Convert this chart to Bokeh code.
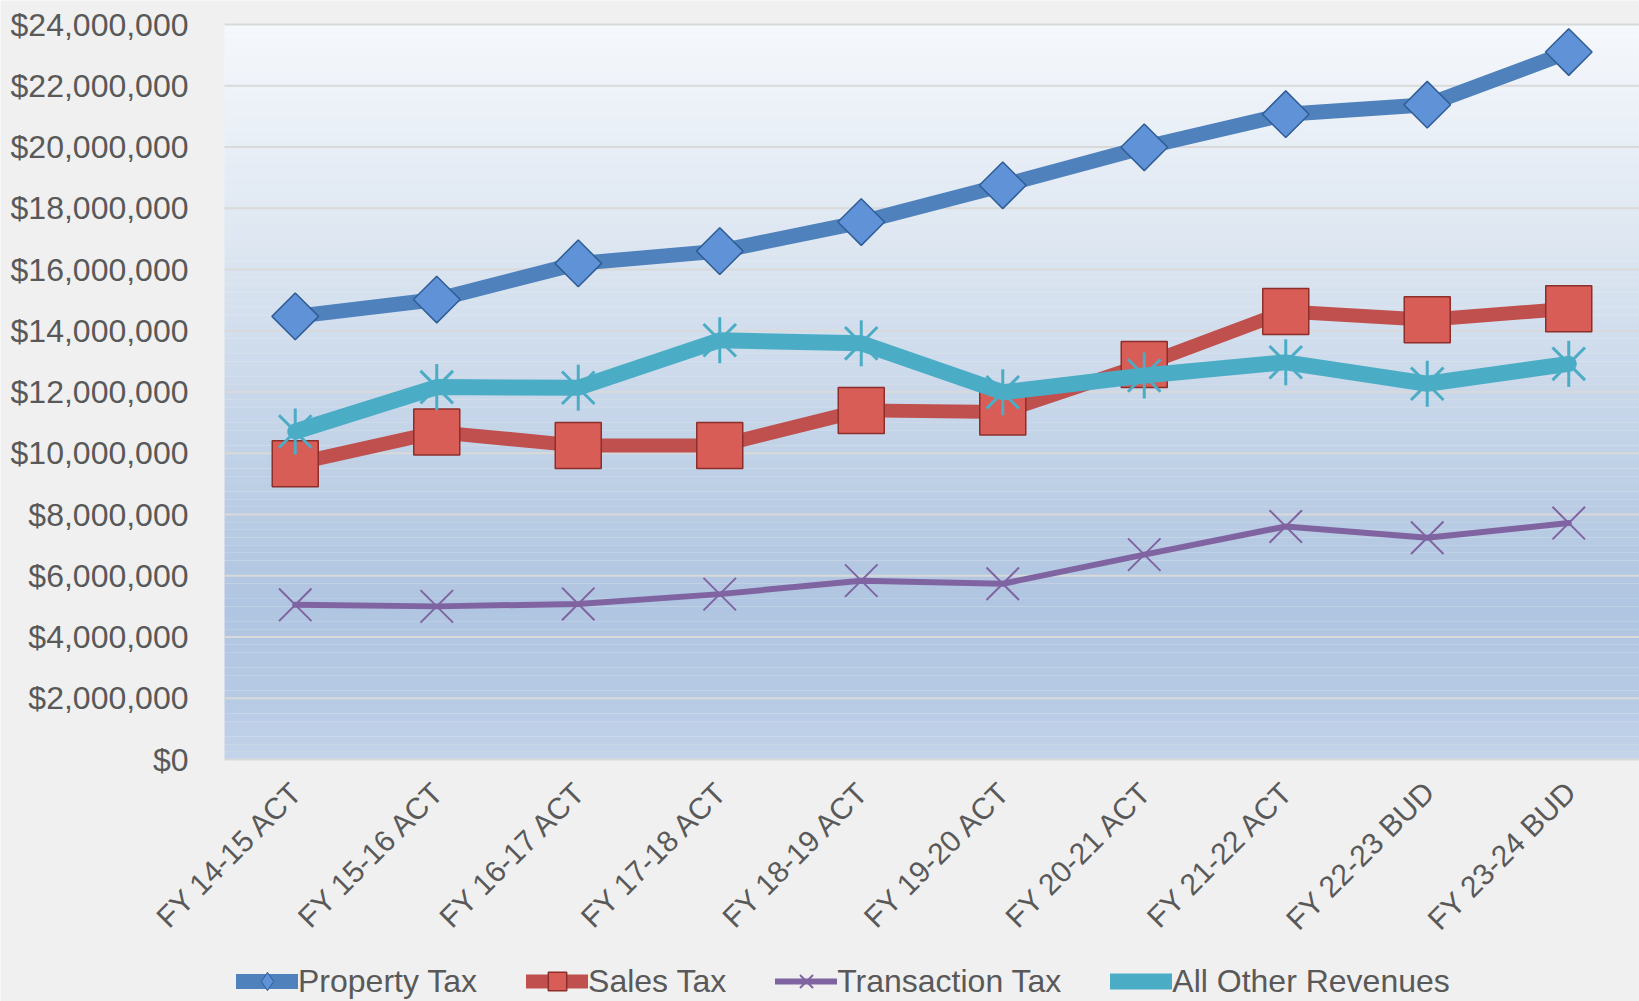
import numpy as np
from bokeh.plotting import figure
from bokeh.models import Range1d, Legend, LegendItem, BoxAnnotation
from bokeh.embed import file_html
from bokeh.resources import INLINE

# ---------------- data ----------------
categories = ["FY 14-15 ACT", "FY 15-16 ACT", "FY 16-17 ACT", "FY 17-18 ACT",
              "FY 18-19 ACT", "FY 19-20 ACT", "FY 20-21 ACT", "FY 21-22 ACT",
              "FY 22-23 BUD", "FY 23-24 BUD"]
property_tax = [14470000, 15020000, 16200000, 16600000, 17550000,
                18750000, 19990000, 21070000, 21380000, 23100000]
sales_tax = [9660000, 10690000, 10250000, 10250000, 11400000,
             11350000, 12900000, 14630000, 14360000, 14720000]
transaction_tax = [5050000, 5000000, 5080000, 5400000, 5840000,
                   5740000, 6690000, 7610000, 7240000, 7720000]
all_other = [10710000, 12160000, 12140000, 13690000, 13590000,
             11990000, 12540000, 12970000, 12270000, 12920000]
y_ticks = list(range(0, 24000001, 2000000))
y_tick_labels = ["${:,}".format(v) for v in y_ticks]

FONT = "Liberation Sans"
TXT = "#595959"
BG = "#f0f0f0"

# layout numbers (pixels): canvas, plot-area offsets
W, H, TOP, LEFT, VAL_H = 1639, 1001, 24, 224, 735
n = len(categories)
x_idx = list(range(n))
y_lo, y_hi = y_ticks[0], y_ticks[-1]
upp = (y_hi - y_lo) / VAL_H                # value units per pixel
band = (W - LEFT) / n                      # pixels per category
x_range = Range1d(-0.5 - LEFT / band, n - 0.5)
y_range = Range1d(y_lo - (H - TOP - VAL_H) * upp, y_hi + TOP * upp)

p = figure(x_range=x_range, y_range=y_range, width=W, height=H,
           output_backend="svg", toolbar_location=None,
           min_border_left=0, min_border_right=0, min_border_top=0, min_border_bottom=0)
p.border_fill_color = BG
p.background_fill_color = BG
p.outline_line_color = None
p.xaxis.visible = False
p.yaxis.visible = False
p.xgrid.grid_line_color = None
p.ygrid.grid_line_color = None

# plot-area vertical gradient (style only)
stops_v = [0, 2, 5, 8, 12, 16, 20, 24]
stops_c = ["#c4d4e9", "#b7cae4", "#b0c5e1", "#b9cce4", "#c9d8ea", "#dae4f0", "#e8eef6", "#f5f8fc"]
def hx(c):
    return np.array([int(c[i:i + 2], 16) for i in (1, 3, 5)], dtype=float)
cols = np.array([hx(c) for c in stops_c])
edges = np.linspace(0, 24, 97)
for b0, b1 in zip(edges[:-1], edges[1:]):
    m = (b0 + b1) / 2
    rgb = [np.interp(m, stops_v, cols[:, k]) for k in range(3)]
    col = "#%02x%02x%02x" % tuple(int(round(v)) for v in rgb)
    p.add_layout(BoxAnnotation(left=-0.5, right=n - 0.5, bottom=b0 * 1e6, top=b1 * 1e6,
                               fill_color=col, fill_alpha=1, line_alpha=0, level="image"))

# horizontal grid lines at the value ticks
p.segment(x0=-0.5, x1=n - 0.5, y0=y_ticks, y1=y_ticks, line_color="#d9d9d9", line_width=2)

# value-axis labels
p.text(x=[-0.5] * len(y_ticks), y=y_ticks, text=y_tick_labels,
       text_align="right", text_baseline="middle", x_offset=-36,
       text_font={"value": FONT}, text_font_size="32px", text_color=TXT)

# category labels (rotated 45 degrees, ending under each category)
p.text(x=x_idx, y=[y_lo] * n, text=categories, angle=np.pi / 4,
       text_align="right", text_baseline="middle", x_offset=2, y_offset=27,
       text_font={"value": FONT}, text_font_size="30px", text_color=TXT)

# series
c_prop, c_sales, c_trans, c_other = "#4f81bd", "#c0504d", "#8064a2", "#4bacc6"

l1 = p.line(x_idx, property_tax, line_width=15, line_color=c_prop,
            line_join="round", line_cap="round")
m1d = p.scatter(x_idx, property_tax, marker="diamond", size=20,
                fill_color="#5f92d6", line_color="#2f5d96", line_width=1)
m1 = p.scatter(x_idx, property_tax, marker="square", angle=np.pi / 4, size=33,
               fill_color="#5f92d6", line_color="#2f5d96", line_width=1.5)

l2 = p.line(x_idx, sales_tax, line_width=14, line_color=c_sales,
            line_join="round", line_cap="round")
m2 = p.scatter(x_idx, sales_tax, marker="square", size=46,
               fill_color="#d85d56", line_color="#8c2f2b", line_width=1.5)

l3 = p.line(x_idx, transaction_tax, line_width=6, line_color=c_trans,
            line_join="round", line_cap="round")
m3 = p.scatter(x_idx, transaction_tax, marker="x", size=46,
               line_color=c_trans, line_width=2)

l4 = p.line(x_idx, all_other, line_width=16, line_color=c_other,
            line_join="round", line_cap="round")
m4a = p.scatter(x_idx, all_other, marker="x", size=46, line_color=c_other, line_width=3)
m4b = p.scatter(x_idx, all_other, marker="dash", angle=np.pi / 2, size=46,
                line_color=c_other, line_width=3)

legend = Legend(items=[LegendItem(label="Property Tax", renderers=[l1, m1d]),
                       LegendItem(label="Sales Tax", renderers=[l2, m2]),
                       LegendItem(label="Transaction Tax", renderers=[l3, m3]),
                       LegendItem(label="All Other Revenues", renderers=[l4, m4a, m4b])],
                location=(236, -3), orientation="horizontal",
                glyph_width=62, glyph_height=46, label_height=46, label_standoff=0, spacing=49,
                padding=0, margin=0, background_fill_alpha=0, border_line_alpha=0,
                label_text_font=FONT, label_text_font_size="32px", label_text_color=TXT)
p.add_layout(legend)

open("out.html", "w").write(file_html(p, INLINE))
